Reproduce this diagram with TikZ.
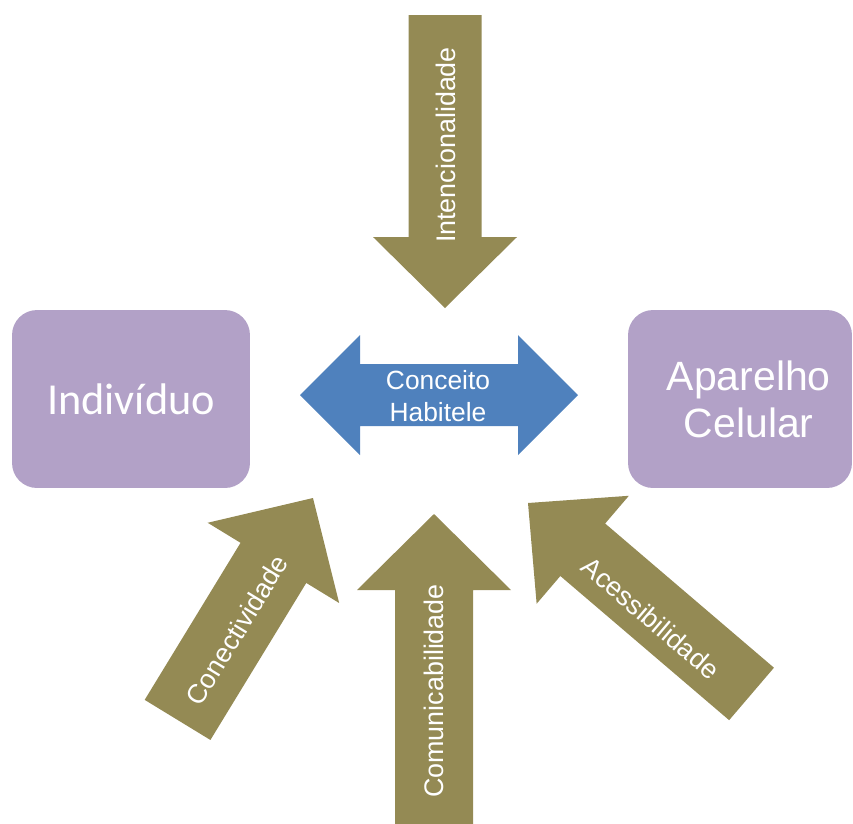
\documentclass[tikz,border=0pt]{standalone}
\usepackage{fontspec}
\setmainfont{Liberation Sans}
\newfontfamily\boxfont{Carlito}
\definecolor{arrowolive}{HTML}{948A54}
\definecolor{boxlilac}{HTML}{B2A1C7}
\definecolor{habiteleblue}{HTML}{4F81BD}
\tikzset{
  box/.style={fill=boxlilac, rounded corners=0.5cm, text=white, align=center,
    minimum height=3.56cm},
  blockarrow/.style={fill=arrowolive},
  arrowlabel/.style={text=white, inner sep=0pt, font=\fontsize{15.3}{18}\selectfont},
}
\begin{document}
\begin{tikzpicture}[x=0.02cm,y=-0.02cm]
    \useasboundingbox (0,0) rectangle (853,823);
    % caixas
    \node[box, minimum width=4.76cm, font=\boxfont\fontsize{25.2}{29}\selectfont] (individuo) at (131,399) {Indivíduo};
    \node[box, minimum width=4.48cm, font=\fontsize{23.3}{26.7}\selectfont] (aparelho) at (740,399) {\hspace*{10pt}Aparelho\\\hspace*{10pt}Celular};
    % seta dupla
    \fill[habiteleblue] (300,395) -- (360,335) -- (360,364) -- (518,364) -- (518,335) -- (578,395)
        -- (518,455) -- (518,426) -- (360,426) -- (360,455) -- cycle;
    \node[text=white, align=center, inner sep=0pt, font=\fontsize{15}{18.1}\selectfont] (habitele) at (438,396) {Conceito\\Habitele};
    % setas
    \begin{scope}[shift={(445,308)},rotate=-90]
      \fill[blockarrow] (0,0) -- (-71,72) -- (-71,36.5) -- (-293,36.5) -- (-293,-36.5) -- (-71,-36.5) -- (-71,-72) -- cycle;
    \end{scope}
    \begin{scope}[shift={(434,514)},rotate=90]
      \fill[blockarrow] (0,0) -- (-76,77) -- (-76,39) -- (-312,39) -- (-312,-39) -- (-76,-39) -- (-76,-77) -- cycle;
    \end{scope}
    \begin{scope}[shift={(313,498)},rotate=58.6]
      \fill[blockarrow] (0,0) -- (-76,77) -- (-76,38.5) -- (-260,38.5) -- (-260,-38.5) -- (-76,-38.5) -- (-76,-77) -- cycle;
    \end{scope}
    \begin{scope}[shift={(528,503)},rotate=139.5]
      \fill[blockarrow] (0,0) -- (-72,71) -- (-72,34.5) -- (-294,34.5) -- (-294,-34.5) -- (-72,-34.5) -- (-72,-71) -- cycle;
    \end{scope}
    \node[arrowlabel, rotate=90] (intencionalidade) at (446,145) {Intencionalidade};
    \node[arrowlabel, rotate=90] (comunicabilidade) at (434,691) {Comunicabilidade};
    \node[arrowlabel, rotate=58.6] (conectividade) at (237,630) {Conectividade};
    \node[arrowlabel, rotate=-40.5] (acessibilidade) at (651,618) {Acessibilidade};
\end{tikzpicture}
\end{document}
